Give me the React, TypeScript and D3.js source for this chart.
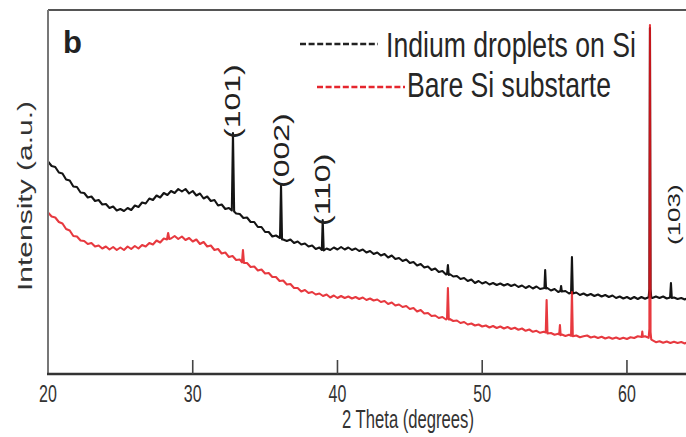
import React from "react";
import * as d3 from "d3";

// ---------- DATA (intensity in arbitrary units) ----------
const xTicks = [20, 30, 40, 50, 60];
const xDomain: [number, number] = [20, 64.08];
const yDomain: [number, number] = [0, 3640];

const legendLabels = ["Indium droplets on Si", "Bare Si substarte"];
const panelLabel = "b";
const xTitle = "2 Theta (degrees)";
const yTitle = "Intensity (a.u.)";

// Indium droplets on Si (black)
const indiumSeries: [number, number][] = [
  [20,2125],[20.25,2080],[20.5,2070],[20.75,2015],[21,2005],[21.25,1945],[21.5,1935],[21.75,1875],[22,1870],[22.25,1815],[22.5,1810],[22.75,1765],[23,1775],[23.25,1730],[23.5,1740],[23.75,1695],[24,1700],[24.25,1660],[24.5,1675],[24.75,1635],[25,1650],[25.25,1630],[25.5,1660],[25.75,1640],[26,1685],[26.25,1670],[26.5,1715],[26.75,1705],[27,1755],[27.25,1740],[27.5,1785],[27.75,1765],[28,1810],[28.25,1790],[28.5,1830],[28.75,1810],[29,1850],[29.25,1825],[29.5,1850],[29.75,1805],[30,1830],[30.25,1785],[30.5,1805],[30.75,1755],[31,1775],[31.25,1730],[31.5,1740],[31.75,1685],[32,1695],[32.25,1650],[32.5,1660],[32.7,1635],[32.78,2410],[32.86,1625],[33,1605],[33.25,1600],[33.5,1560],[33.75,1565],[34,1520],[34.25,1520],[34.5,1470],[34.75,1470],[35,1420],[35.25,1420],[35.5,1375],[35.75,1385],[36.03,1360],[36.1,1890],[36.17,1345],[36.25,1345],[36.5,1330],[36.75,1345],[37,1310],[37.25,1325],[37.5,1295],[37.75,1305],[38,1275],[38.25,1285],[38.5,1250],[38.75,1265],[38.92,1240],[38.98,1540],[39.05,1235],[39.25,1255],[39.5,1240],[39.75,1265],[40,1245],[40.25,1270],[40.5,1245],[40.75,1265],[41,1240],[41.25,1255],[41.5,1230],[41.75,1245],[42,1215],[42.25,1230],[42.5,1200],[42.75,1215],[43,1185],[43.25,1200],[43.5,1165],[43.75,1185],[44,1150],[44.25,1160],[44.5,1130],[44.75,1145],[45,1110],[45.25,1120],[45.5,1085],[45.75,1100],[46,1065],[46.25,1075],[46.5,1040],[46.75,1055],[47,1020],[47.25,1030],[47.5,995],[47.57,1000],[47.63,1090],[47.69,990],[47.75,1000],[48,975],[48.25,980],[48.5,950],[48.75,960],[49,930],[49.25,945],[49.5,910],[49.75,930],[50,905],[50.25,920],[50.5,895],[50.75,910],[51,890],[51.25,905],[51.5,885],[51.75,900],[52,880],[52.25,895],[52.5,870],[52.75,885],[53,860],[53.25,880],[53.5,855],[53.75,875],[54,850],[54.3,860],[54.35,1040],[54.41,855],[54.5,860],[54.75,835],[55,850],[55.25,820],[55.4,830],[55.45,880],[55.5,825],[55.75,830],[56,805],[56.14,815],[56.2,1170],[56.26,805],[56.5,815],[56.75,790],[57,805],[57.25,785],[57.5,800],[57.75,780],[58,795],[58.25,775],[58.5,790],[58.75,770],[59,785],[59.25,760],[59.5,775],[59.75,755],[60,770],[60.25,750],[60.5,770],[60.75,750],[61,770],[61.25,752],[61.5,768],[61.55,850],[61.59,3460],[61.63,850],[61.68,765],[61.75,760],[62,775],[62.25,760],[62.5,775],[62.75,755],[62.98,765],[63.04,910],[63.1,760],[63.25,765],[63.5,750],[63.75,760],[64,745],[64.1,755]
];

// Bare Si substrate (red)
const bareSiSeries: [number, number][] = [
  [20,1615],[20.25,1575],[20.5,1565],[20.75,1520],[21,1505],[21.25,1450],[21.5,1435],[21.75,1380],[22,1375],[22.25,1335],[22.5,1330],[22.75,1300],[23,1310],[23.25,1275],[23.5,1285],[23.75,1255],[24,1275],[24.25,1245],[24.5,1270],[24.75,1240],[25,1265],[25.25,1240],[25.5,1275],[25.75,1250],[26,1280],[26.25,1255],[26.5,1290],[26.75,1275],[27,1310],[27.25,1295],[27.5,1335],[27.75,1315],[28,1355],[28.22,1345],[28.3,1410],[28.38,1350],[28.5,1355],[28.75,1380],[29,1350],[29.25,1375],[29.5,1340],[29.75,1360],[30,1325],[30.25,1345],[30.5,1300],[30.75,1320],[31,1275],[31.25,1285],[31.5,1240],[31.75,1250],[32,1205],[32.25,1215],[32.5,1170],[32.75,1180],[33,1140],[33.25,1145],[33.4,1115],[33.47,1240],[33.54,1110],[33.75,1110],[34,1070],[34.25,1075],[34.5,1035],[34.75,1045],[35,1005],[35.25,1010],[35.5,970],[35.75,970],[36,930],[36.25,935],[36.5,895],[36.75,900],[37,860],[37.25,860],[37.5,825],[37.75,840],[38,810],[38.25,820],[38.5,795],[38.75,805],[39,780],[39.25,795],[39.5,765],[39.75,785],[40,760],[40.25,780],[40.5,760],[40.75,775],[41,755],[41.25,770],[41.5,750],[41.75,765],[42,740],[42.25,755],[42.5,735],[42.75,745],[43,720],[43.25,730],[43.5,700],[43.75,715],[44,685],[44.25,695],[44.5,670],[44.75,680],[45,650],[45.25,660],[45.5,625],[45.75,640],[46,605],[46.25,610],[46.5,580],[46.75,585],[47,560],[47.25,570],[47.5,545],[47.57,555],[47.63,860],[47.69,545],[47.75,550],[48,530],[48.25,535],[48.5,510],[48.75,520],[49,495],[49.25,505],[49.5,485],[49.75,495],[50,475],[50.25,485],[50.5,465],[50.75,480],[51,460],[51.25,475],[51.5,455],[51.75,470],[52,450],[52.25,462],[52.5,443],[52.75,455],[53,432],[53.25,445],[53.5,422],[53.75,432],[54,412],[54.25,422],[54.39,415],[54.45,740],[54.51,405],[54.75,410],[55,392],[55.25,402],[55.32,395],[55.37,490],[55.42,388],[55.5,395],[55.75,380],[56,392],[56.14,382],[56.2,820],[56.26,378],[56.5,385],[56.75,368],[57,378],[57.25,385],[57.5,365],[57.75,375],[58,360],[58.25,372],[58.5,355],[58.75,368],[59,352],[59.25,365],[59.5,350],[59.75,363],[60,350],[60.25,368],[60.5,360],[60.75,378],[61.02,370],[61.06,425],[61.1,372],[61.25,378],[61.5,362],[61.55,450],[61.59,3490],[61.63,420],[61.68,345],[61.75,338],[62,318],[62.25,328],[62.5,312],[62.75,325],[63,310],[63.25,323],[63.5,310],[63.75,320],[64,305],[64.1,315]
];

// Peak annotations (label, 2θ position, intensity at the label's lower end)
const peakLabels = ["(101)", "(002)", "(110)", "(103)"];
const peakTheta = [32.75, 36.12, 39.0, 63.28];
const peakLabelIntensity = [2350, 1860, 1480, 1290];
const peakLabelSize = [32, 32, 32, 26];

// ---------- CHART ----------
const W = 686;
const H = 437;
const M = { left: 48, right: 686, top: 10, bottom: 374 };
const SQ = 0.666; // horizontal squish of the original figure's lettering
const FONT = "'Liberation Sans', Arial, Helvetica, sans-serif";

export default function App() {
  const x = d3.scaleLinear().domain(xDomain).range([M.left, M.right]);
  const y = d3.scaleLinear().domain(yDomain).range([M.bottom, M.top]);
  const line = d3
    .line<[number, number]>()
    .x((d) => x(d[0]))
    .y((d) => y(d[1]))
    .curve(d3.curveLinear);

  const blackColor = "#141414";
  const redColor = "#e3161d";

  return (
    <svg
      width={W}
      height={H}
      style={{ position: "absolute", left: 0, top: 0, background: "#fff" }}
      fontFamily={FONT}
    >
      <defs>
        <clipPath id="plotClip">
          <rect x={M.left} y={M.top} width={M.right - M.left} height={M.bottom - M.top} />
        </clipPath>
      </defs>
      <rect x={0} y={0} width={W} height={H} fill="#fff" />

      {/* curves */}
      <g clipPath="url(#plotClip)">
        <path d={line(indiumSeries) || ""} fill="none" stroke={blackColor} strokeWidth={2.1} strokeLinejoin="round" />
        <path d={line(bareSiSeries) || ""} fill="none" stroke={redColor} strokeWidth={2.1} strokeLinejoin="round" strokeOpacity={0.85} />
      </g>

      {/* frame */}
      <line x1={M.left} x2={M.right} y1={M.top} y2={M.top} stroke="#555" strokeWidth={2} />
      <line x1={M.left} x2={M.left} y1={M.top} y2={M.bottom + 1} stroke="#777" strokeWidth={2} />
      <line x1={M.left - 1} x2={M.right} y1={M.bottom} y2={M.bottom} stroke="#333" strokeWidth={2.4} />

      {/* x ticks */}
      {xTicks.map((t) => (
        <g key={t}>
          {t !== xDomain[0] && (
            <line x1={x(t)} x2={x(t)} y1={M.bottom - 14} y2={M.bottom} stroke="#444" strokeWidth={1.6} />
          )}
          <text
            transform={`translate(${x(t)},${M.bottom + 28}) scale(${SQ},1)`}
            textAnchor="middle"
            fontSize={24}
            fill="#333"
          >
            {t}
          </text>
        </g>
      ))}

      {/* axis titles */}
      <text
        transform={`translate(${408},${428}) scale(${SQ},1)`}
        textAnchor="middle"
        fontSize={25}
        fill="#333"
      >
        {xTitle}
      </text>
      <text
        transform={`translate(${25},${196}) scale(${SQ},1) rotate(-90)`}
        textAnchor="middle"
        dominantBaseline="central"
        fontSize={30}
        fill="#333"
      >
        {yTitle}
      </text>

      {/* panel label */}
      <text x={63} y={53} fontSize={31} fontWeight="bold" fill="#222">
        {panelLabel}
      </text>

      {/* peak labels */}
      {peakLabels.map((lab, i) => (
        <text
          key={lab}
          transform={`translate(${x(peakTheta[i])},${y(peakLabelIntensity[i])}) scale(${SQ},1) rotate(-90)`}
          textAnchor="start"
          dominantBaseline="central"
          fontSize={peakLabelSize[i]}
          fill="#222"
        >
          {lab}
        </text>
      ))}

      {/* legend */}
      <line x1={300} x2={378} y1={44} y2={44} stroke="#222" strokeWidth={2.6} strokeDasharray="6,2.6" />
      <text transform={`translate(386,57) scale(0.76,1)`} fontSize={35} fill="#262626">
        {legendLabels[0]}
      </text>
      <line x1={317} x2={405} y1={87} y2={87} stroke="#e5262e" strokeWidth={2.4} strokeDasharray="6,2.6" />
      <text transform={`translate(407,97) scale(0.76,1)`} fontSize={35} fill="#262626">
        {legendLabels[1]}
      </text>
    </svg>
  );
}
